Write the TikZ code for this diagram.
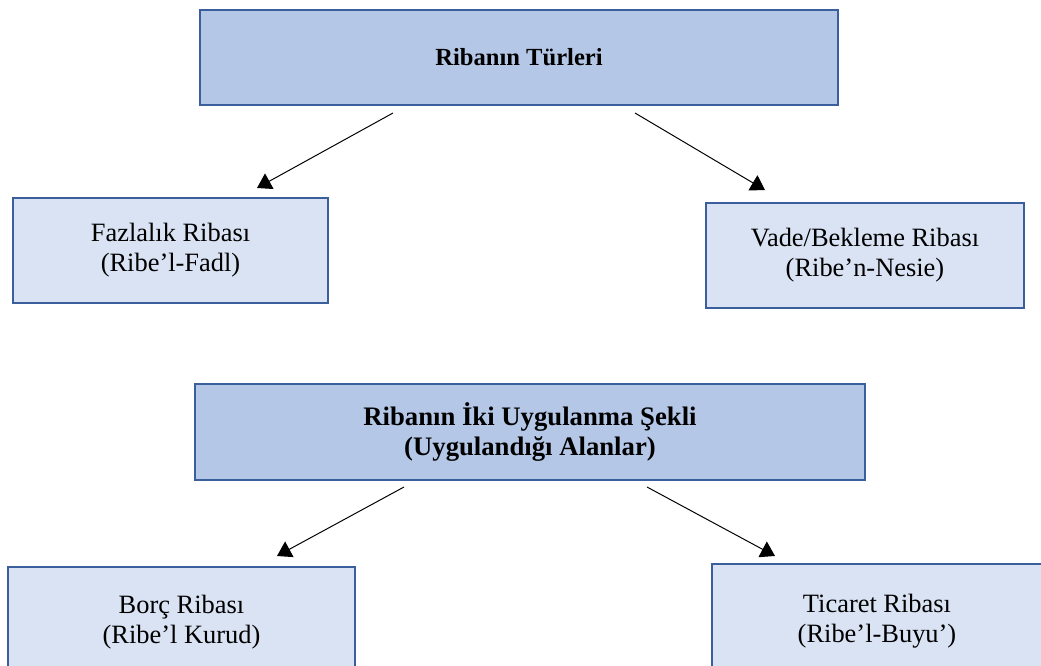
\documentclass[tikz,border=0pt]{standalone}
\usepackage{fontspec}
\setmainfont{Liberation Serif}
\usetikzlibrary{arrows.meta}

\definecolor{kenar}{HTML}{3A5F9C}
\definecolor{baslik}{HTML}{B4C7E7}
\definecolor{acik}{HTML}{DAE3F3}

\tikzset{
  ustkutu/.style={draw=kenar, line width=1.8pt, fill=baslik, align=center,
    font=\fontsize{19}{22}\selectfont\bfseries},
  altkutu/.style={draw=kenar, line width=1.8pt, fill=acik, align=center,
    font=\fontsize{18.8}{21.5}\selectfont},
  ok/.style={-{Triangle[length=10pt,width=12.5pt]}, line width=0.7pt}
}

\begin{document}
\begin{tikzpicture}
                    \useasboundingbox (0,0) rectangle (26.025,-16.65);
                    \clip (0,0) rectangle (26.025,-16.65);

                    \node[ustkutu, font=\fontsize{17.5}{21}\selectfont\bfseries, minimum width=15.95cm, minimum height=2.375cm] (turler) at (12.975,-1.4375) {Ribanın Türleri};
                    \node[altkutu, minimum width=7.875cm, minimum height=2.625cm] (fazl) at (4.2625,-6.2625) {Fazlalık Ribası\\(Ribe’l-Fadl)};
                    \node[altkutu, minimum width=7.95cm, minimum height=2.625cm] (nesie) at (21.625,-6.3875) {Vade/Bekleme Ribası\\(Ribe’n-Nesie)};

                    \node[ustkutu, minimum width=16.75cm, minimum height=2.4cm] (sekil) at (13.25,-10.8) {Ribanın İki Uygulanma Şekli\\(Uygulandığı Alanlar)};
                    \node[altkutu, minimum width=8.675cm, minimum height=2.75cm] (kurud) at (4.5375,-15.55) {Borç Ribası\\(Ribe’l Kurud)};
                    \node[altkutu, minimum width=8.25cm, minimum height=2.85cm] (buyu) at (21.925,-15.525) {Ticaret Ribası\\(Ribe’l-Buyu’)};

                    \coordinate (t1) at (9.825,-2.825);
                    \coordinate (t2) at (15.875,-2.825);
                    \coordinate (f1) at (6.425,-4.7);
                    \coordinate (n1) at (19.125,-4.75);
                    \coordinate (s1) at (10.1,-12.175);
                    \coordinate (s2) at (16.175,-12.175);
                    \coordinate (k1) at (6.925,-13.9);
                    \coordinate (b1) at (19.375,-13.9);

                    \draw[ok] (t1) -- (f1);
                    \draw[ok] (t2) -- (n1);
                    \draw[ok] (s1) -- (k1);
                    \draw[ok] (s2) -- (b1);
                    % oklar kutulara degmiyor

\end{tikzpicture}
\end{document}
